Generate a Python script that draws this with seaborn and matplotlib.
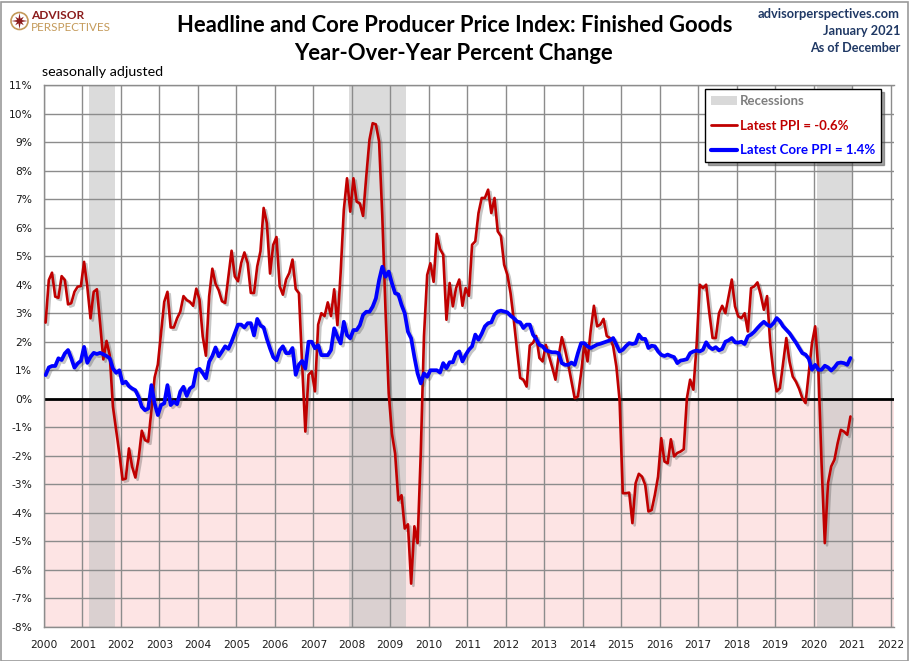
import matplotlib
matplotlib.use("Agg")
import matplotlib.pyplot as plt
import matplotlib.patheffects as pe
from matplotlib.patches import Rectangle, Patch, Circle, Polygon
from matplotlib.lines import Line2D
from matplotlib import font_manager
import numpy as np
import pandas as pd
import seaborn as sns

# ---------------- data ----------------
years = list(range(2000, 2021))

headline_ppi = [
    2.67, 4.16, 4.42, 3.58, 3.54, 4.30, 4.16, 3.31, 3.35, 3.75, 3.93, 3.95,      # 2000
    4.80, 3.93, 2.82, 3.75, 3.84, 2.64, 1.38, 2.03, 1.53, -0.28, -1.10, -1.92,   # 2001
    -2.83, -2.80, -1.74, -2.39, -2.76, -2.10, -1.12, -1.45, -1.50, -0.40, 0.75, 1.20,  # 2002
    2.30, 3.40, 3.75, 2.50, 2.50, 2.82, 3.05, 3.60, 3.46, 3.40, 3.26, 3.86,      # 2003
    3.47, 2.19, 1.51, 3.59, 4.56, 4.03, 3.80, 3.42, 3.36, 4.29, 5.19, 4.29,      # 2004
    4.12, 4.76, 5.13, 4.76, 3.71, 3.71, 4.64, 5.17, 6.69, 6.16, 4.39, 5.40,      # 2005
    5.67, 3.94, 3.65, 4.18, 4.41, 4.88, 3.85, 3.70, 1.20, -1.15, 0.84, 0.96,     # 2006
    0.26, 2.60, 3.00, 2.90, 3.38, 2.90, 3.84, 2.58, 4.40, 6.62, 7.73, 6.56,      # 2007
    7.73, 6.91, 6.85, 6.41, 7.79, 9.08, 9.66, 9.62, 9.02, 6.40, 3.11, 0.19,      # 2008
    -1.22, -1.92, -3.56, -3.38, -4.55, -4.40, -6.48, -4.47, -5.06, -1.90, 2.20, 4.34,  # 2009
    4.75, 4.10, 5.78, 5.25, 5.05, 2.77, 4.06, 3.24, 3.88, 4.18, 3.26, 3.88,      # 2010
    3.61, 5.40, 5.52, 6.51, 7.04, 7.04, 7.33, 6.51, 7.04, 5.87, 5.70, 4.70,      # 2011
    4.35, 3.70, 2.77, 1.72, 0.73, 0.67, 0.43, 1.87, 1.96, 2.20, 1.43, 1.31,      # 2012
    1.89, 1.49, 1.10, 0.67, 1.50, 2.16, 1.72, 1.20, 0.60, 0.02, 0.08, 0.90,      # 2013
    1.95, 1.31, 2.40, 3.26, 2.54, 2.60, 2.80, 2.20, 2.13, 1.84, 1.13, -0.05,     # 2014
    -3.31, -3.31, -3.29, -4.36, -2.96, -2.63, -2.73, -3.02, -3.95, -3.90, -3.37, -2.73,  # 2015
    -1.38, -2.20, -2.26, -1.42, -2.02, -1.90, -1.85, -1.77, 0.02, 0.67, 0.32, 1.84,  # 2016
    4.00, 3.88, 4.00, 3.00, 2.13, 2.13, 3.00, 3.26, 3.00, 3.60, 4.18, 3.24,      # 2017
    2.89, 2.83, 3.00, 2.36, 3.88, 3.94, 4.08, 3.65, 3.12, 3.60, 1.90, 0.90,      # 2018
    0.26, 0.37, 1.25, 2.13, 1.30, 0.78, 0.60, 0.35, 0.02, -0.15, 0.90, 1.95,     # 2019
    2.54, 1.00, -2.30, -5.06, -2.96, -2.37, -2.14, -1.56, -1.09, -1.15, -1.26, -0.62,  # 2020
]

core_ppi = [
    0.83, 1.10, 1.15, 1.15, 1.42, 1.36, 1.59, 1.71, 1.42, 1.09, 1.24, 1.33,      # 2000
    1.82, 1.26, 1.47, 1.61, 1.57, 1.61, 1.56, 1.50, 1.42, 1.06, 0.91, 1.00,      # 2001
    0.54, 0.60, 0.44, 0.36, 0.30, 0.07, -0.28, -0.40, -0.34, 0.48, -0.16, -0.57, # 2002
    -0.22, -0.16, 0.48, -0.22, -0.10, -0.19, 0.25, 0.42, 0.10, 0.36, 0.44, 1.00, # 2003
    1.05, 0.90, 0.72, 1.30, 1.50, 1.80, 1.49, 1.66, 1.84, 1.75, 2.00, 2.30,      # 2004
    2.60, 2.60, 2.50, 2.65, 2.65, 2.22, 2.80, 2.57, 2.50, 2.10, 1.76, 1.46,      # 2005
    1.35, 1.70, 1.84, 1.60, 1.60, 1.78, 0.84, 1.20, 1.33, 1.06, 2.00, 2.00,      # 2006
    1.77, 1.88, 1.53, 1.53, 1.53, 1.71, 2.47, 2.18, 1.94, 2.70, 2.23, 2.12,      # 2007
    2.41, 2.41, 2.58, 2.94, 3.05, 3.05, 3.23, 3.52, 4.16, 4.63, 4.28, 4.46,      # 2008
    4.05, 3.70, 3.66, 3.29, 3.00, 2.35, 2.12, 1.47, 0.89, 0.54, 0.89, 0.77,      # 2009
    1.00, 1.00, 1.00, 0.92, 1.25, 1.07, 1.28, 1.28, 1.58, 1.66, 1.31, 1.54,      # 2010
    1.72, 1.84, 2.25, 2.07, 2.28, 2.54, 2.65, 2.68, 2.95, 3.06, 3.09, 3.06,      # 2011
    3.03, 2.91, 2.83, 2.71, 2.68, 2.48, 2.60, 2.60, 2.25, 2.09, 1.89, 1.84,      # 2012
    1.70, 1.66, 1.63, 1.63, 1.60, 1.25, 1.19, 1.19, 1.27, 1.19, 1.60, 1.95,      # 2013
    1.95, 1.84, 1.78, 1.84, 1.90, 1.93, 1.97, 2.01, 2.05, 2.13, 1.90, 1.66,      # 2014
    1.72, 1.85, 1.95, 1.92, 1.95, 2.25, 2.10, 2.10, 1.78, 1.86, 1.84, 1.66,      # 2015
    1.54, 1.50, 1.55, 1.50, 1.46, 1.25, 1.34, 1.36, 1.39, 1.60, 1.66, 1.69,      # 2016
    1.66, 1.72, 1.98, 1.81, 1.74, 1.81, 1.70, 1.75, 2.00, 2.05, 2.13, 1.98,      # 2017
    1.97, 2.00, 1.92, 2.19, 2.25, 2.35, 2.48, 2.60, 2.70, 2.60, 2.54, 2.65,      # 2018
    2.83, 2.72, 2.54, 2.42, 2.30, 2.13, 1.97, 1.78, 1.60, 1.55, 1.40, 1.02,      # 2019
    1.19, 1.02, 1.02, 1.16, 1.10, 0.99, 1.10, 1.25, 1.27, 1.25, 1.19, 1.43,      # 2020
]

recessions = [(2001.167, 2001.833), (2007.917, 2009.417), (2020.083, 2021.0)]
x_ticks = list(range(2000, 2023))
x_tick_labels = [str(v) for v in x_ticks]
y_ticks = list(range(-8, 12))
y_tick_labels = [f"{v}%" for v in y_ticks]
legend_labels = ["Recessions", "Latest PPI = -0.6%", "Latest Core PPI = 1.4%"]

title_1 = "Headline and Core Producer Price Index: Finished Goods"
title_2 = "Year-Over-Year Percent Change"
site_lines = ["advisorperspectives.com", "January 2021", "As of December"]
note_text = "seasonally adjusted"

# ---------------- build frame ----------------
dates = [y + (m + 0.5) / 12 for y in years for m in range(12)]
df = pd.DataFrame({"date": dates, "PPI": headline_ppi, "Core PPI": core_ppi})

sns.set_theme(style="white")
avail = {f.name for f in font_manager.fontManager.ttflist}
text_font = next((f for f in ["Lato", "Open Sans", "Noto Sans", "DejaVu Sans"] if f in avail), "DejaVu Sans")
plt.rcParams["font.family"] = ["DejaVu Sans"]

W, H = 910, 661
fig = plt.figure(figsize=(W / 100, H / 100), dpi=100)
fig.patch.set_facecolor("white")


def fx(px):
    return px / W


def fy(py):
    return 1 - py / H


ax = fig.add_axes([fx(44), (H - 627) / H, 850 / W, 542 / H])
ax.set_facecolor("white")
ax.set_xlim(2000, 2022.09)
ax.set_ylim(-8, 11)

ax.axhspan(-8, 0, color="#FDE4E4", lw=0, zorder=0.1)
for s, e in recessions:
    ax.axvspan(s, e, color="#C4C4C4", alpha=0.6, lw=0, zorder=0.2)

ax.set_axisbelow(True)
ax.grid(True, color="#8C8C8C", linewidth=1.0)
ax.axhline(0, color="black", lw=2.0, zorder=2)

shadow = [pe.SimpleLineShadow(offset=(1.6, -1.6), shadow_color="#444444", alpha=0.3), pe.Normal()]
sns.lineplot(data=df, x="date", y="PPI", ax=ax, color="#C00000", linewidth=1.9,
             zorder=3, path_effects=shadow)
sns.lineplot(data=df, x="date", y="Core PPI", ax=ax, color="#0000FF", linewidth=2.7,
             zorder=4, path_effects=shadow)

ax.set_xlabel("")
ax.set_ylabel("")
ax.set_xticks(x_ticks)
ax.set_xticklabels(x_tick_labels)
ax.set_yticks(y_ticks)
ax.set_yticklabels(y_tick_labels)
ax.tick_params(axis="both", length=0, labelsize=7.7, labelcolor="#1A1A1A")
ax.tick_params(axis="x", pad=9.0)
ax.tick_params(axis="y", pad=8.4)
for side in ["left", "bottom", "top"]:
    ax.spines[side].set_color("#8C8C8C")
    ax.spines[side].set_linewidth(1.0)
ax.spines["right"].set_visible(False)

# ---------------- texts ----------------
navy = "#1F3864"
t1 = fig.text(fx(455), fy(25), title_1, ha="center", va="center", family=text_font,
              weight="bold", fontsize=16, color="black")
t2 = fig.text(fx(454), fy(54), title_2, ha="center", va="center", family=text_font,
              weight="bold", fontsize=16, color="black")
s1 = fig.text(fx(900), fy(14), site_lines[0], ha="right", va="center", family=text_font,
              weight="bold", fontsize=10, color=navy)
s2 = fig.text(fx(900), fy(31), site_lines[1], ha="right", va="center", family=text_font,
              weight="bold", fontsize=10, color=navy)
s3 = fig.text(fx(900), fy(48), site_lines[2], ha="right", va="center", family=text_font,
              weight="bold", fontsize=10, color=navy)
note = fig.text(fx(42), fy(72), note_text, ha="left", va="center", family=text_font,
                fontsize=9, color="black")
logo1 = fig.text(fx(31), fy(15.5), "ADVISOR", ha="left", va="center", family=text_font,
                 weight="bold", fontsize=8.6, color="#8B1C1C")
logo2 = fig.text(fx(31), fy(27.5), "PERSPECTIVES", ha="left", va="center", family=text_font,
                 fontsize=8.4, color="#C49A5A")

fits = [(t1, 556), (t2, 308), (s1, 143), (s2, 77), (s3, 91), (note, 121)]
fig.canvas.draw()
r = fig.canvas.get_renderer()
for t, w in fits:
    bw = t.get_window_extent(renderer=r).width
    t.set_fontsize(t.get_fontsize() * w / bw)
t2.set_fontsize(t1.get_fontsize())

# legend font size from the widest label
tmp = fig.text(0, 0, legend_labels[2], family=text_font, weight="bold", fontsize=10)
fig.canvas.draw()
lw_px = tmp.get_window_extent(renderer=fig.canvas.get_renderer()).width
tmp.remove()
leg_fs = 10 * 135 / lw_px

# logo icon
tr = fig.dpi_scale_trans
cx, cy, rad = 19.5 / 100, (H - 21) / 100, 8.5 / 100
fig.patches.append(Circle((cx, cy), rad, transform=tr, facecolor="none",
                          edgecolor="#C49A5A", lw=1.2))
ang = np.linspace(0, 2 * np.pi, 17)[:-1] + np.pi / 2
rr = np.where(np.arange(16) % 2 == 0, 1.0, 0.32) * rad * 0.95
rr = np.where(np.arange(16) % 4 == 2, rr * 0.75, rr)
star = np.column_stack([cx + rr * np.cos(ang), cy + rr * np.sin(ang)])
fig.patches.append(Polygon(star, closed=True, transform=tr, facecolor="#8B1C1C",
                           edgecolor="none"))

# ---------------- legend ----------------
handles = [
    Patch(facecolor="#D9D9D9", edgecolor="none"),
    Line2D([], [], color="#C00000", lw=2.0),
    Line2D([], [], color="#0000FF", lw=3.0),
]
leg = ax.legend(handles, legend_labels, loc="upper left",
                bbox_to_anchor=(fx(705), fy(89)), bbox_transform=fig.transFigure,
                borderaxespad=0, frameon=True, fancybox=False, shadow=True,
                prop={"family": text_font, "weight": "bold", "size": leg_fs},
                labelcolor=["#7F7F7F", "#C00000", "#0000FF"],
                handlelength=2.0, handletextpad=0.2, labelspacing=0.95,
                borderpad=0.45, handleheight=0.7)
leg.get_frame().set_edgecolor("black")
leg.get_frame().set_linewidth(1.0)
leg.get_frame().set_facecolor("white")
leg.set_zorder(10)

# figure border
fig.patches.append(Rectangle((0.5 / W, 0.5 / H), 1 - 2.5 / W, 1 - 2.5 / H,
                             transform=fig.transFigure, fill=False,
                             edgecolor="#9A9A9A", lw=1.2))

fig.savefig("out.png", dpi=100, facecolor="white")
